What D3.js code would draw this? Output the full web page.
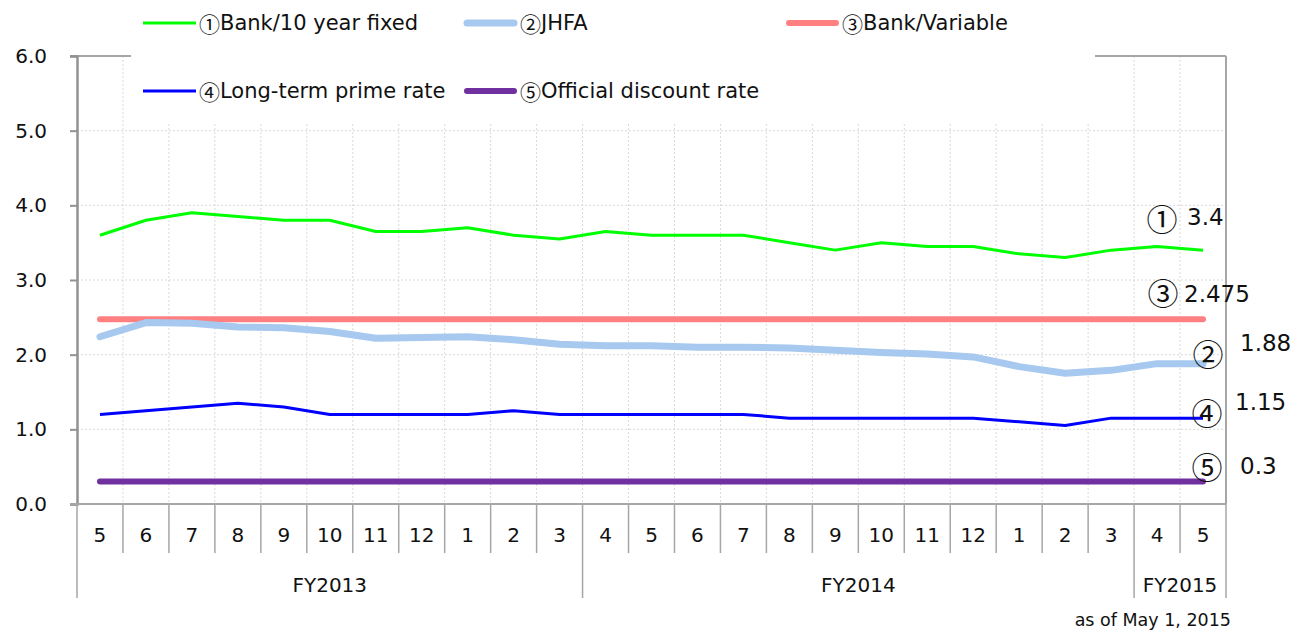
<!DOCTYPE html>
<html>
<head>
<meta charset="utf-8">
<script src="https://cdn.jsdelivr.net/npm/d3@7"></script>
<style>
  html, body { margin: 0; padding: 0; background: #fff; }
  svg { display: block; }
  text { font-family: "DejaVu Sans", Verdana, sans-serif; fill: #111; }
  .circ { font-family: "Noto Sans CJK JP", "DejaVu Sans", sans-serif; }
</style>
</head>
<body>
<svg id="chart" width="1302" height="630"></svg>
<script>
// ---- data ----
const months = [5,6,7,8,9,10,11,12,1,2,3,4,5,6,7,8,9,10,11,12,1,2,3,4,5];
const fiscalYears = ["FY2013","FY2014","FY2015"];
const yTicks = [0,1,2,3,4,5,6];

const bankFixed    = [3.6,3.8,3.9,3.85,3.8,3.8,3.65,3.65,3.7,3.6,3.55,3.65,3.6,3.6,3.6,3.5,3.4,3.5,3.45,3.45,3.35,3.3,3.4,3.45,3.4];
const jhfa         = [2.24,2.43,2.42,2.37,2.36,2.31,2.22,2.23,2.24,2.2,2.14,2.12,2.12,2.1,2.1,2.09,2.06,2.03,2.01,1.97,1.84,1.75,1.79,1.88,1.88];
const bankVariable = [2.475,2.475,2.475,2.475,2.475,2.475,2.475,2.475,2.475,2.475,2.475,2.475,2.475,2.475,2.475,2.475,2.475,2.475,2.475,2.475,2.475,2.475,2.475,2.475,2.475];
const longPrime    = [1.2,1.25,1.3,1.35,1.3,1.2,1.2,1.2,1.2,1.25,1.2,1.2,1.2,1.2,1.2,1.15,1.15,1.15,1.15,1.15,1.1,1.05,1.15,1.15,1.15];
const discount     = [0.3,0.3,0.3,0.3,0.3,0.3,0.3,0.3,0.3,0.3,0.3,0.3,0.3,0.3,0.3,0.3,0.3,0.3,0.3,0.3,0.3,0.3,0.3,0.3,0.3];

const seriesMarks = ["①","②","③","④","⑤"];
const seriesNames = ["Bank/10 year fixed","JHFA","Bank/Variable","Long-term prime rate","Official discount rate"];
const endValueText = ["3.4","1.88","2.475","1.15","0.3"];

// ---- styles ----
const series = [
  {data: bankFixed,    color: "#00ff00", width: 3,   cap: "butt"},
  {data: jhfa,         color: "#a7c9ef", width: 7,   cap: "round"},
  {data: bankVariable, color: "#ff8080", width: 6,   cap: "round"},
  {data: longPrime,    color: "#0000ff", width: 3,   cap: "butt"},
  {data: discount,     color: "#7030a0", width: 6,   cap: "round"}
];

const svg = d3.select("#chart");
const L = 77, R = 1226, T = 56, B = 504;
const FS = 20;

const x = d3.scaleBand().domain(d3.range(months.length)).range([L, R]).padding(0);
const y = d3.scaleLinear().domain([0, 6]).range([B, T]);
const bw = x.bandwidth();

// grid
const grid = svg.append("g");
grid.selectAll("line.h").data(yTicks.filter(d => d > 0 && d < 6)).join("line")
  .attr("x1", L).attr("x2", R).attr("y1", d => y(d)).attr("y2", d => y(d))
  .attr("stroke", "#d9d9d9").attr("stroke-width", 1).attr("stroke-dasharray", "2,2");
grid.selectAll("line.v").data(d3.range(1, months.length)).join("line")
  .attr("x1", d => x(d)).attr("x2", d => x(d)).attr("y1", T).attr("y2", B)
  .attr("stroke", "#d9d9d9").attr("stroke-width", 1).attr("stroke-dasharray", "2,2");

// top & right border
svg.append("line").attr("x1", L - 7).attr("x2", R).attr("y1", y(6)).attr("y2", y(6))
  .attr("stroke", "#a6a6a6").attr("stroke-width", 2);
svg.append("line").attr("x1", R).attr("x2", R).attr("y1", y(6)).attr("y2", B)
  .attr("stroke", "#a6a6a6").attr("stroke-width", 2);

// y axis
const yAxis = d3.axisLeft(y).tickValues(yTicks).tickFormat(d3.format(".1f")).tickSize(7).tickPadding(23);
const ya = svg.append("g").attr("transform", `translate(${L},0)`).call(yAxis);
ya.select(".domain").attr("stroke", "#929292").attr("stroke-width", 2.5);
ya.selectAll(".tick line").attr("stroke", "#929292").attr("stroke-width", 2);
ya.selectAll(".tick text").attr("font-size", FS).attr("font-family", "DejaVu Sans").attr("fill", "#111");

// x axis
svg.append("line").attr("x1", L - 7).attr("x2", R).attr("y1", B).attr("y2", B)
  .attr("stroke", "#a6a6a6").attr("stroke-width", 2);
const xa = svg.append("g");
xa.selectAll("line.t").data(d3.range(0, months.length + 1)).join("line")
  .attr("x1", d => d < months.length ? x(d) : R).attr("x2", d => d < months.length ? x(d) : R)
  .attr("y1", B).attr("y2", (d) => (d === 0 || d === months.length || months[d] === 4) ? 598 : 553)
  .attr("stroke", "#a6a6a6").attr("stroke-width", 1.5);
xa.selectAll("text.m").data(months).join("text")
  .attr("x", (d, i) => x(i) + bw / 2).attr("y", 535)
  .attr("text-anchor", "middle").attr("dominant-baseline", "central")
  .attr("font-size", FS).text(d => d);

// fiscal year groups
const starts = [0].concat(d3.range(1, months.length).filter(i => months[i] === 4));
const groups = starts.map((s, k) => ({label: fiscalYears[k], s, e: k + 1 < starts.length ? starts[k + 1] : months.length}));
xa.selectAll("text.fy").data(groups).join("text")
  .attr("x", g => (x(g.s) + (g.e < months.length ? x(g.e) : R)) / 2).attr("y", 585)
  .attr("text-anchor", "middle").attr("dominant-baseline", "central")
  .attr("font-size", FS).text(g => g.label);

svg.append("text").attr("x", 1231).attr("y", 620).attr("text-anchor", "end")
  .attr("dominant-baseline", "central").attr("font-size", 17.5).text("as of May 1, 2015");

// lines
const line = d3.line().x((d, i) => x(i) + bw / 2).y(d => y(d));
const order = [2, 1, 0, 3, 4];
svg.append("g").selectAll("path").data(order.map(k => series[k])).join("path")
  .attr("d", s => line(s.data)).attr("fill", "none")
  .attr("stroke", s => s.color).attr("stroke-width", s => s.width)
  .attr("stroke-linecap", s => s.cap).attr("stroke-linejoin", "round");

// legend box
svg.append("rect").attr("x", 131).attr("y", 0).attr("width", 1095 - 131).attr("height", 123).attr("fill", "#fff");
const legendPos = [
  {lx: 143, ly: 23}, {lx: 464, ly: 23}, {lx: 786, ly: 23},
  {lx: 143, ly: 91}, {lx: 464, ly: 91}
];
const lg = svg.append("g").selectAll("g").data(series).join("g")
  .attr("transform", (s, i) => `translate(${legendPos[i].lx},${legendPos[i].ly})`);
lg.append("line").attr("x1", s => s.cap === "round" ? 3 : 0).attr("x2", s => s.cap === "round" ? 50 : 53)
  .attr("y1", 0).attr("y2", 0)
  .attr("stroke", s => s.color).attr("stroke-width", s => s.width).attr("stroke-linecap", s => s.cap);
const lt = lg.append("text").attr("x", 56).attr("y", 0).attr("dominant-baseline", "central").attr("font-size", 21);
lt.append("tspan").attr("class", "circ").attr("font-size", 21).text((s, i) => seriesMarks[i]);
lt.append("tspan").text((s, i) => seriesNames[i]);

// end labels
const last = months.length - 1;
const cx = x(last) + bw / 2;
const endLabels = [
  {k: 0, mx: cx - 41, my: y(bankFixed[last]) - 33, tx: cx - 16, ty: y(bankFixed[last]) - 33},
  {k: 2, mx: cx - 40, my: y(bankVariable[last]) - 28, tx: cx - 19, ty: y(bankVariable[last]) - 25},
  {k: 1, mx: cx + 5,  my: y(jhfa[last]) - 11, tx: cx + 37, ty: y(jhfa[last]) - 21},
  {k: 3, mx: cx + 4,  my: y(longPrime[last]) - 7, tx: cx + 32, ty: y(longPrime[last]) - 16},
  {k: 4, mx: cx + 4,  my: y(discount[last]) - 16, tx: cx + 37, ty: y(discount[last]) - 16}
];
const el = svg.append("g");
el.selectAll("text.mk").data(endLabels).join("text").attr("class", "circ")
  .attr("x", d => d.mx).attr("y", d => d.my).attr("text-anchor", "middle").attr("dominant-baseline", "central")
  .attr("font-size", 31).text(d => seriesMarks[d.k]);
el.selectAll("text.vl").data(endLabels).join("text")
  .attr("x", d => d.tx).attr("y", d => d.ty).attr("dominant-baseline", "central")
  .attr("font-size", 23).text(d => endValueText[d.k]);
</script>
</body>
</html>
